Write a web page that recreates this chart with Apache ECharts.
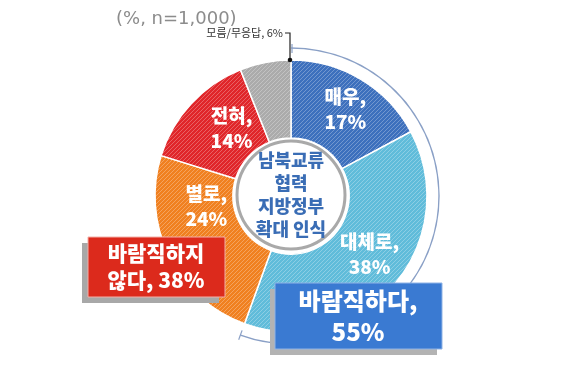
<!DOCTYPE html>
<html><head><meta charset="utf-8">
<script src="https://cdn.jsdelivr.net/npm/echarts@6/dist/echarts.min.js"></script>
<style>html,body{margin:0;padding:0;background:#fff}#c{width:583px;height:371px}</style>
</head><body><div id="c"></div>
<script>
const categories = ['매우', '대체로', '별로', '전혀', '모름/무응답'];
const values = [17, 38, 24, 14, 6];
const groupLabels = ['바람직하다, 55%', '바람직하지 않다, 38%'];
const groupValues = [55, 38];
const centerTitle = ['남북교류', '협력', '지방정부', '확대 인식'];
const subtitle = '(%, n=1,000)';

const baseColors = ['#3d70bd', '#60bcda', '#f08020', '#e0262a', '#ababab'];
const FONT = '"Noto Sans CJK KR", "Noto Sans", sans-serif';

function hatch(color) {
  const c = document.createElement('canvas');
  c.width = 4; c.height = 4;
  const g = c.getContext('2d');
  g.fillStyle = color; g.fillRect(0, 0, 4, 4);
  g.strokeStyle = 'rgba(255,255,255,0.28)';
  g.lineWidth = 1;
  g.beginPath();
  g.moveTo(0, 4); g.lineTo(4, 0);
  g.moveTo(-1, 1); g.lineTo(1, -1);
  g.moveTo(3, 5); g.lineTo(5, 3);
  g.stroke();
  return { image: c, repeat: 'repeat' };
}

const CX = 291, CY = 196, R_OUT = 136, R_IN = 58, R_BR = 148;
const total = values.reduce((a, b) => a + b, 0);

const chart = echarts.init(document.getElementById('c'), null, { renderer: 'canvas' });

const labelShift = [{dx: 3, dy: -1}, {dx: 3, dy: -7}, {dx: 5, dy: -34}, {dx: 14, dy: 0}, {dx: 0, dy: 0}];

const bracketAngle = groupValues[0] / total * 360;
const endRad = bracketAngle * Math.PI / 180;

chart.setOption({
  animation: false,
  title: {
    text: subtitle, left: 111, top: 5,
    textStyle: { color: '#8c8c8c', fontSize: 18, fontWeight: 'normal', fontFamily: '"DejaVu Sans", sans-serif' }
  },
  series: [
    {
      type: 'pie', center: [CX, CY], radius: [R_IN, R_OUT], startAngle: 90, clockwise: true,
      silent: true,
      itemStyle: { borderColor: '#fff', borderWidth: 1.5 },
      label: {
        position: 'inside', color: '#fff', fontWeight: 900, fontSize: 19,
        fontFamily: FONT, lineHeight: 25,
        formatter: p => p.dataIndex === 4 ? '' : p.name + ',\n' + p.value + '%'
      },
      labelLayout: p => labelShift[p.dataIndex],
      labelLine: { show: false },
      data: categories.map((n, i) => ({ name: n, value: values[i], itemStyle: { color: hatch(baseColors[i]) } }))
    },
    {
      type: 'pie', center: [CX, CY - 1], radius: [0, R_IN - 4], silent: true,
      itemStyle: { color: '#fff', borderColor: '#a9a9a9', borderWidth: 3 },
      label: {
        position: 'center', color: '#3a6db5', fontWeight: 900, fontSize: 18,
        fontFamily: FONT, lineHeight: 23, formatter: centerTitle.join('\n')
      },
      labelLine: { show: false },
      data: [{ value: 1, name: 'c' }]
    },
    {
      type: 'pie', center: [CX, CY], radius: [R_BR - 0.7, R_BR + 0.7], startAngle: 90, silent: true,
      label: { show: false }, labelLine: { show: false },
      data: [
        { value: groupValues[0], itemStyle: { color: '#8aa0c6' } },
        { value: total - groupValues[0], itemStyle: { color: 'rgba(0,0,0,0)' } }
      ]
    }
  ],
  graphic: [
    { type: 'line', z: 50, shape: { x1: CX + 1, y1: CY - R_BR - 4, x2: CX + 1, y2: CY - R_BR + 5 }, style: { stroke: '#8aa0c6', lineWidth: 1.2 } },
    { type: 'line', z: 50, shape: {
        x1: CX + (R_BR - 5) * Math.sin(endRad), y1: CY - (R_BR - 5) * Math.cos(endRad),
        x2: CX + (R_BR + 5) * Math.sin(endRad), y2: CY - (R_BR + 5) * Math.cos(endRad) },
      style: { stroke: '#8aa0c6', lineWidth: 1.2 } },
    { type: 'polyline', z: 60, shape: { points: [[CX - 1, CY - R_OUT], [CX - 1, CY - R_OUT - 27], [CX - 6, CY - R_OUT - 27]] }, style: { stroke: '#222', lineWidth: 1.2, fill: null } },
    { type: 'circle', z: 61, shape: { cx: CX - 1, cy: CY - R_OUT, r: 2.3 }, style: { fill: '#111' } },
    { type: 'text', z: 60, style: { text: categories[4] + ', ' + values[4] + '%', x: CX - 8, y: CY - R_OUT - 27, align: 'right', verticalAlign: 'middle', fill: '#333', font: '11px ' + FONT } },
    { type: 'rect', z: 70, shape: { x: 82, y: 243, width: 137, height: 60 }, style: { fill: '#a8a8a8' } },
    { type: 'rect', z: 71, shape: { x: 88, y: 237, width: 137, height: 60 }, style: { fill: '#dc2a1c', stroke: '#f3b0a8', lineWidth: 1 } },
    { type: 'text', z: 72, style: { text: '바람직하지\n않다, ' + groupValues[1] + '%', x: 156, y: 267, align: 'center', verticalAlign: 'middle', fill: '#fff', font: '900 21px ' + FONT, lineHeight: 27 } },
    { type: 'rect', z: 70, shape: { x: 270, y: 289, width: 167, height: 66 }, style: { fill: '#b3b3b3' } },
    { type: 'rect', z: 71, shape: { x: 275, y: 283, width: 167, height: 66 }, style: { fill: '#3a7ad2', stroke: '#8fb3e6', lineWidth: 1 } },
    { type: 'text', z: 72, style: { text: '바람직하다,\n' + groupValues[0] + '%', x: 358, y: 316, align: 'center', verticalAlign: 'middle', fill: '#fff', font: '900 24px ' + FONT, lineHeight: 31 } }
  ]
});
</script></body></html>
